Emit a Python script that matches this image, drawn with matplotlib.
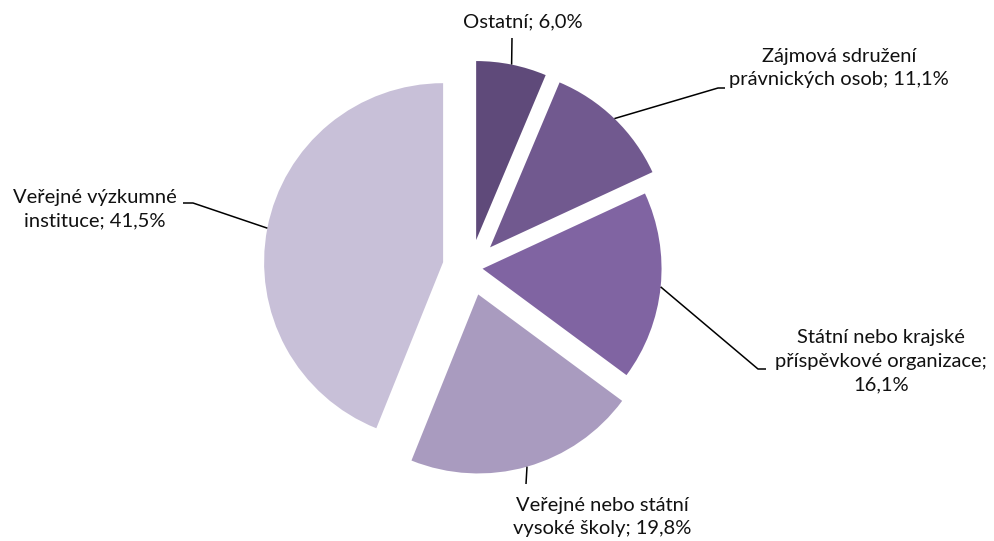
import numpy as np
import matplotlib.pyplot as plt

plt.rcParams['font.family'] = ['Lato', 'DejaVu Sans']

labels = ['Ostatní; 6,0%',
          'Zájmová sdružení\nprávnických osob; 11,1%',
          'Státní nebo krajské\npříspěvkové organizace;\n16,1%',
          'Veřejné nebo státní\nvysoké školy; 19,8%',
          'Veřejné výzkumné\ninstituce; 41,5%']
values = [6.0, 11.1, 16.1, 19.8, 41.5]
colors = ['#5F4A7A', '#71598F', '#8064A2', '#A99BBF', '#C8C0D8']
explode = [28, 28, 12, 28, 28]   # px offset

W, H = 994, 541
fig = plt.figure(figsize=(W/100, H/100), dpi=100)
ax = fig.add_axes([0, 0, 1, 1])

R = 179
wedges, _ = ax.pie(values, colors=colors, explode=explode, startangle=90,
                   counterclock=False, radius=R, center=(470.6, H-267.5),
                   wedgeprops=dict(linewidth=0))
ax.set_xlim(0, W)
ax.set_ylim(0, H)
ax.set_aspect('equal')
ax.axis('off')

# leader path (pixel coords from top) and text centre
elbows = [[(512, 38)],
          [(718, 88), (725, 88)],
          [(758, 369), (766, 369)],
          [(526, 484)],
          [(193, 203), (183, 203)]]
text_pos = [(523, 22), (839, 68), (881, 361), (602, 517), (95, 209)]

for w, lab, el, tp in zip(wedges, labels, elbows, text_pos):
    mid = np.deg2rad((w.theta1 + w.theta2) / 2)
    cx, cy = w.center
    x0 = cx + w.r * np.cos(mid)
    y0 = cy + w.r * np.sin(mid)
    xs = [x0] + [p[0] for p in el]
    ys = [y0] + [H - p[1] for p in el]
    ax.plot(xs, ys, color='black', lw=1.1, solid_capstyle='butt')
    ax.text(tp[0], H - tp[1], lab, ha='center', va='center', ma='center',
            fontsize=14.5, color='#111111', linespacing=1.48)

fig.savefig('out.png', dpi=100)
